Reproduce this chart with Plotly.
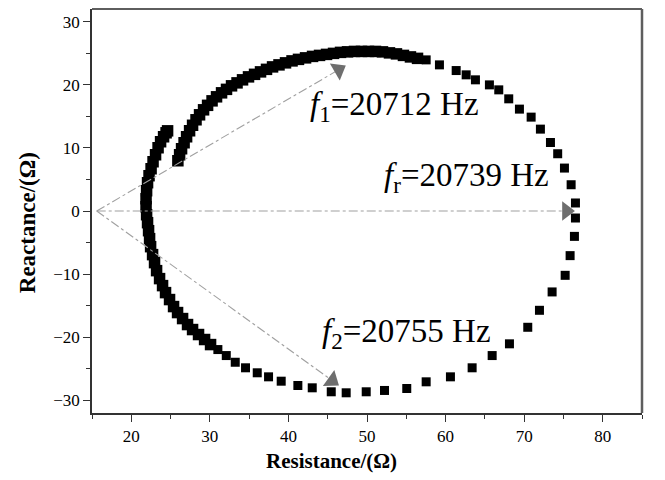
import plotly.graph_objects as go

# Impedance locus: resistance (x) vs reactance (y), in ohms
resistance = [
    25.93, 26.15, 26.40, 26.72, 27.04, 27.42, 27.80, 28.24, 28.69, 29.20,
    29.71, 30.28, 30.85, 31.49, 32.12, 32.76, 33.46, 34.16, 34.92, 35.69,
    36.45, 37.21, 37.98, 38.80, 39.63, 40.46, 41.28, 42.18, 43.07, 43.96,
    44.85, 45.74, 46.63, 47.52, 48.41, 49.30, 50.19, 51.08, 51.97, 52.86,
    53.75, 54.64, 55.53, 56.43,
    57.53, 59.22, 61.35, 62.62, 63.80, 65.58, 66.77, 68.04, 69.40, 70.89,
    72.07, 73.35, 74.27, 75.13, 75.98, 76.53, 76.53, 76.40, 75.85, 75.22,
    73.56, 71.95, 70.46, 68.13, 65.93, 63.38, 60.62, 57.53, 55.06, 52.23,
    49.90, 47.35, 45.45, 43.03, 41.20, 39.08, 37.47, 36.03, 34.54, 33.23,
    32.09, 31.02,
    30.09, 29.33, 28.56, 27.80, 27.16, 26.53, 25.89, 25.38, 24.87, 24.36,
    23.98, 23.60, 23.22, 22.96, 22.71, 22.46, 22.33, 22.20, 22.07, 21.95,
    21.88, 21.88, 21.95, 22.07, 22.26, 22.52, 22.77, 23.09, 23.41, 23.73,
    24.11, 24.43, 24.62,
]
reactance = [
    7.96, 8.91, 9.86, 10.81, 11.76, 12.71, 13.58, 14.45, 15.24, 16.03,
    16.74, 17.45, 18.09, 18.72, 19.27, 19.83, 20.30, 20.78, 21.25, 21.65,
    22.04, 22.44, 22.83, 23.15, 23.47, 23.78, 24.02, 24.26, 24.49, 24.65,
    24.81, 24.97, 25.13, 25.21, 25.28, 25.28, 25.28, 25.28, 25.21, 25.05,
    24.89, 24.65, 24.41, 24.18,
    23.94, 23.15, 22.25, 21.57, 20.78, 19.98, 19.19, 17.77, 16.14, 14.87,
    12.97, 10.85, 9.07, 6.80, 4.16, 1.27, -1.11, -4.02, -7.07, -10.19,
    -12.82, -15.73, -18.42, -21.04, -22.90, -24.84, -26.27, -27.06, -28.12, -28.43,
    -28.64, -28.80, -28.64, -28.01, -27.64, -26.96, -26.27, -25.63, -24.84, -23.96,
    -22.90, -21.95,
    -21.16, -20.36, -19.57, -18.78, -17.99, -17.04, -16.09, -15.14, -14.03, -12.93,
    -11.82, -10.71, -9.45, -8.18, -6.91, -5.65, -4.38, -3.12, -1.85, -0.59,
    0.68, 1.95, 3.21, 4.48, 5.59, 6.69, 7.80, 8.91, 10.02, 10.97,
    11.76, 12.39, 12.70,
]

# Frequency markers: arrow from a common origin to each point on the locus
arrow_origin = (15.6, 0.0)
marker_names = ["f1", "fr", "f2"]
marker_tip_x = [46.37, 75.38, 45.55]
marker_tip_y = [22.36, 0.0, -26.85]
marker_labels = ["<i>f</i><sub>1</sub>=20712 Hz",
                 "<i>f</i><sub>r</sub>=20739 Hz",
                 "<i>f</i><sub>2</sub>=20755 Hz"]
label_x = [42.43, 51.97, 43.96]
label_y = [16.5, 5.27, -19.4]

x_ticks = [20, 30, 40, 50, 60, 70, 80]
y_ticks = [-30, -20, -10, 0, 10, 20, 30]

SERIF = "Liberation Serif, Times New Roman, serif"

# densely sampled stretches overlap into a solid band; the sparse stretch
# shows single squares
n_upper, n_right = 44, 42
point_sizes = ([11.5] * n_upper + [9] * n_right
               + [11.5] * (len(resistance) - n_upper - n_right))

fig = go.Figure()

fig.add_trace(go.Scatter(
    x=resistance, y=reactance, mode="markers",
    marker=dict(symbol="square", size=point_sizes, color="black", opacity=1,
                line=dict(width=0)),
    showlegend=False, hoverinfo="skip",
))

for name, tx, ty in zip(marker_names, marker_tip_x, marker_tip_y):
    fig.add_trace(go.Scatter(
        x=[arrow_origin[0], tx], y=[arrow_origin[1], ty],
        mode="lines+markers", name=name,
        line=dict(color="#a0a0a0", width=1.1, dash="dashdot"),
        marker=dict(symbol="triangle-up", size=[0, 17], opacity=[0, 1],
                    color="#6e6e6e", angleref="previous", line=dict(width=0)),
        showlegend=False, hoverinfo="skip",
    ))

for text, lx, ly in zip(marker_labels, label_x, label_y):
    fig.add_annotation(
        x=lx, y=ly, xref="x", yref="y", text=text, showarrow=False,
        xanchor="left", yanchor="middle",
        font=dict(family=SERIF, size=33, color="black"),
    )

# Axis titles
fig.add_annotation(
    x=-0.118, y=0.47, xref="paper", yref="paper", text="<b>Reactance/(Ω)</b>",
    textangle=-90, showarrow=False, xanchor="center", yanchor="middle",
    font=dict(family=SERIF, size=23, color="black"),
)
fig.add_annotation(
    x=0.436, y=-0.12, xref="paper", yref="paper", text="<b>Resistance/(Ω)</b>",
    showarrow=False, xanchor="center", yanchor="middle",
    font=dict(family=SERIF, size=21, color="black"),
)

# Top and right frame edges
fig.add_shape(type="line", xref="paper", yref="paper", x0=0, x1=1, y0=1, y1=1,
              line=dict(color="#5e5e5e", width=2))
fig.add_shape(type="line", xref="paper", yref="paper", x0=1, x1=1, y0=0, y1=1,
              line=dict(color="#5e5e5e", width=2.5))

axis_common = dict(
    showgrid=False, zeroline=False, showline=True, linecolor="#333333",
    linewidth=1.5, ticks="outside", ticklen=7, tickwidth=1.3, tickcolor="#333333",
    tickfont=dict(family=SERIF, size=17, color="black"),
)

fig.update_xaxes(
    range=[15, 85], tickvals=x_ticks, **axis_common,
    minor=dict(ticks="outside", ticklen=4, dtick=5, tick0=0, tickcolor="#333333",
               tickwidth=1.2, showgrid=False),
)
fig.update_yaxes(
    range=[-32, 32], tickvals=y_ticks, **axis_common,
    minor=dict(ticks="outside", ticklen=4, dtick=5, tick0=0, tickcolor="#333333",
               tickwidth=1.2, showgrid=False),
)

fig.update_layout(
    width=665, height=480,
    margin=dict(l=92, r=23, t=9, b=67),
    paper_bgcolor="white", plot_bgcolor="white",
    showlegend=False,
)

fig.write_html("out.html")
